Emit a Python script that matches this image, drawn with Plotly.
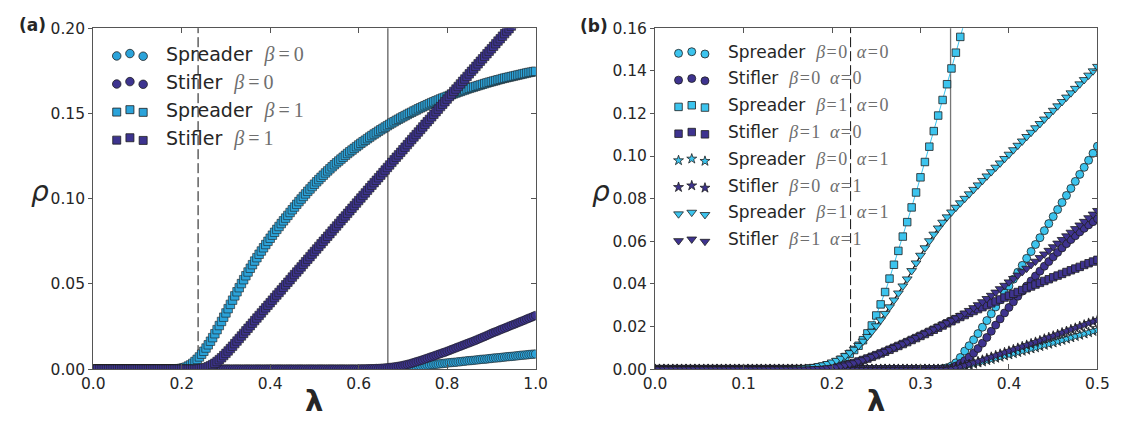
import plotly.graph_objects as go

# ============================ DATA ============================
# ---- panel (a): lambda grid (step 0.005) and densities rho ----
lam_a = [
    0.000, 0.005, 0.010, 0.015, 0.020, 0.025, 0.030, 0.035, 0.040, 0.045,
    0.050, 0.055, 0.060, 0.065, 0.070, 0.075, 0.080, 0.085, 0.090, 0.095,
    0.100, 0.105, 0.110, 0.115, 0.120, 0.125, 0.130, 0.135, 0.140, 0.145,
    0.150, 0.155, 0.160, 0.165, 0.170, 0.175, 0.180, 0.185, 0.190, 0.195,
    0.200, 0.205, 0.210, 0.215, 0.220, 0.225, 0.230, 0.235, 0.240, 0.245,
    0.250, 0.255, 0.260, 0.265, 0.270, 0.275, 0.280, 0.285, 0.290, 0.295,
    0.300, 0.305, 0.310, 0.315, 0.320, 0.325, 0.330, 0.335, 0.340, 0.345,
    0.350, 0.355, 0.360, 0.365, 0.370, 0.375, 0.380, 0.385, 0.390, 0.395,
    0.400, 0.405, 0.410, 0.415, 0.420, 0.425, 0.430, 0.435, 0.440, 0.445,
    0.450, 0.455, 0.460, 0.465, 0.470, 0.475, 0.480, 0.485, 0.490, 0.495,
    0.500, 0.505, 0.510, 0.515, 0.520, 0.525, 0.530, 0.535, 0.540, 0.545,
    0.550, 0.555, 0.560, 0.565, 0.570, 0.575, 0.580, 0.585, 0.590, 0.595,
    0.600, 0.605, 0.610, 0.615, 0.620, 0.625, 0.630, 0.635, 0.640, 0.645,
    0.650, 0.655, 0.660, 0.665, 0.670, 0.675, 0.680, 0.685, 0.690, 0.695,
    0.700, 0.705, 0.710, 0.715, 0.720, 0.725, 0.730, 0.735, 0.740, 0.745,
    0.750, 0.755, 0.760, 0.765, 0.770, 0.775, 0.780, 0.785, 0.790, 0.795,
    0.800, 0.805, 0.810, 0.815, 0.820, 0.825, 0.830, 0.835, 0.840, 0.845,
    0.850, 0.855, 0.860, 0.865, 0.870, 0.875, 0.880, 0.885, 0.890, 0.895,
    0.900, 0.905, 0.910, 0.915, 0.920, 0.925, 0.930, 0.935, 0.940, 0.945,
    0.950, 0.955, 0.960, 0.965, 0.970, 0.975, 0.980, 0.985, 0.990, 0.995,
    1.000,
]

a_spreader_b0 = [
    0, 0, 0, 0, 0, 0, 0, 0, 0, 0,
    0, 0, 0, 0, 0, 0, 0, 0, 0, 0,
    0, 0, 0, 0, 0, 0, 0, 0, 0, 0,
    0, 0, 0, 0, 0, 0, 0, 0, 0, 0,
    0, 0, 0, 0, 0, 0, 0, 0, 0, 0,
    0, 0, 0, 0, 0, 0, 0, 0, 0, 0,
    0, 0, 0, 0, 0, 0, 0, 0, 0, 0,
    0, 0, 0, 0, 0, 0, 0, 0, 0, 0,
    0, 0, 0, 0, 0, 0, 0, 0, 0, 0,
    0, 0, 0, 0, 0, 0, 0, 0, 0, 0,
    0, 0, 0, 0, 0, 0, 0, 0, 0, 0,
    0, 0, 0, 0, 0, 0, 0, 0, 0, 0,
    0, 0, 0, 0, 0, 0, 0, 0, 0, 0,
    0, 0, 0, 0,
    0.0001, 0.0002, 0.0003, 0.0004, 0.0005, 0.0006, 0.0008, 0.0009, 0.001, 0.0012,
    0.0013, 0.0015, 0.0016, 0.0018, 0.0019, 0.0021, 0.0022, 0.0024, 0.0025, 0.0027,
    0.0028, 0.0029, 0.003, 0.0032, 0.0033, 0.0035, 0.0036, 0.0038, 0.0039, 0.004,
    0.0041, 0.0043, 0.0044, 0.0046, 0.0047, 0.0049, 0.005, 0.0051, 0.0052, 0.0054,
    0.0055, 0.0057, 0.0058, 0.0059, 0.006, 0.0062, 0.0063, 0.0065, 0.0066, 0.0067,
    0.0068, 0.007, 0.0071, 0.0073, 0.0074, 0.0075, 0.0076, 0.0078, 0.0079, 0.0081,
    0.0082, 0.0083, 0.0084, 0.0086, 0.0087, 0.0088, 0.0089,
]

a_stifler_b0 = [
    0, 0, 0, 0, 0, 0, 0, 0, 0, 0,
    0, 0, 0, 0, 0, 0, 0, 0, 0, 0,
    0, 0, 0, 0, 0, 0, 0, 0, 0, 0,
    0, 0, 0, 0, 0, 0, 0, 0, 0, 0,
    0, 0, 0, 0, 0, 0, 0, 0, 0, 0,
    0, 0, 0, 0, 0, 0, 0, 0, 0, 0,
    0, 0, 0, 0, 0, 0, 0, 0, 0, 0,
    0, 0, 0, 0, 0, 0, 0, 0, 0, 0,
    0, 0, 0, 0, 0, 0, 0, 0, 0, 0,
    0, 0, 0, 0, 0, 0, 0, 0, 0, 0,
    0, 0, 0, 0, 0, 0, 0, 0, 0, 0,
    0, 0, 0, 0, 0, 0, 0, 0, 0, 0,
    0,
    0.0001, 0.0001, 0.0001, 0.0002, 0.0002, 0.0003, 0.0003, 0.0004, 0.0004, 0.0005,
    0.0006, 0.0007, 0.0008, 0.001, 0.0011, 0.0013, 0.0015, 0.0017, 0.0019, 0.0022,
    0.0025, 0.0028, 0.0031, 0.0035, 0.0039, 0.0043, 0.0047, 0.0051, 0.0055, 0.006,
    0.0064, 0.0069, 0.0073, 0.0078, 0.0082, 0.0087, 0.0091, 0.0096, 0.01, 0.0105,
    0.011, 0.0115, 0.012, 0.0125, 0.013, 0.0135, 0.014, 0.0145, 0.015, 0.0155,
    0.016, 0.0165, 0.017, 0.0176, 0.0181, 0.0187, 0.0192, 0.0198, 0.0204, 0.021,
    0.0215, 0.022, 0.0225, 0.0231, 0.0236, 0.0241, 0.0246, 0.0252, 0.0257, 0.0262,
    0.0267, 0.0273, 0.0278, 0.0283, 0.0288, 0.0294, 0.0299, 0.0304, 0.031, 0.0315,
]

a_spreader_b1 = [
    0, 0, 0, 0, 0, 0, 0, 0, 0, 0,
    0, 0, 0, 0, 0, 0, 0, 0, 0, 0,
    0, 0, 0, 0, 0, 0, 0, 0, 0, 0,
    0, 0, 0, 0, 0, 0, 0, 0,
    0.0002, 0.0003, 0.0005, 0.0008, 0.0012, 0.0018, 0.0025, 0.0034, 0.0045, 0.0058,
    0.0072, 0.0088, 0.0105, 0.0124, 0.0143, 0.0164, 0.0185, 0.0208, 0.0232, 0.0256,
    0.028, 0.0305, 0.033, 0.0355, 0.038, 0.0405, 0.043, 0.0454, 0.0478, 0.0502,
    0.0525, 0.0548, 0.057, 0.0592, 0.0613, 0.0634, 0.0654, 0.0674, 0.0693, 0.0712,
    0.0731, 0.075, 0.0768, 0.0786, 0.0803, 0.082, 0.0837, 0.0854, 0.087, 0.0886,
    0.0902, 0.0919, 0.0935, 0.0951, 0.0967, 0.0983, 0.0998, 0.1013, 0.1028, 0.1043,
    0.1057, 0.1071, 0.1085, 0.1099, 0.1112, 0.1125, 0.1138, 0.1151, 0.1163, 0.1175,
    0.1187, 0.1199, 0.121, 0.1221, 0.1232, 0.1243, 0.1254, 0.1265, 0.1275, 0.1285,
    0.1295, 0.1305, 0.1315, 0.1325, 0.1334, 0.1343, 0.1352, 0.1361, 0.137, 0.1379,
    0.1387, 0.1396, 0.1404, 0.1412, 0.142, 0.1428, 0.1436, 0.1444, 0.1451, 0.1459,
    0.1466, 0.1473, 0.148, 0.1487, 0.1494, 0.1501, 0.1507, 0.1514, 0.152, 0.1527,
    0.1533, 0.1539, 0.1545, 0.1551, 0.1557, 0.1563, 0.1568, 0.1574, 0.1579, 0.1585,
    0.159, 0.1595, 0.16, 0.1605, 0.161, 0.1615, 0.162, 0.1625, 0.1629, 0.1634,
    0.1638, 0.1643, 0.1647, 0.1651, 0.1655, 0.1659, 0.1663, 0.1667, 0.1671, 0.1675,
    0.1679, 0.1683, 0.1686, 0.169, 0.1693, 0.1697, 0.17, 0.1704, 0.1707, 0.171,
    0.1713, 0.1716, 0.1719, 0.1722, 0.1725, 0.1728, 0.1731, 0.1734, 0.1737, 0.174,
    0.1742, 0.1745, 0.1747,
]

a_stifler_b1 = [
    0, 0, 0, 0, 0, 0, 0, 0, 0, 0,
    0, 0, 0, 0, 0, 0, 0, 0, 0, 0,
    0, 0, 0, 0, 0, 0, 0, 0, 0, 0,
    0, 0, 0, 0, 0, 0, 0, 0, 0, 0,
    0, 0, 0, 0, 0, 0, 0, 0,
    0.0002, 0.0004, 0.0006, 0.0009, 0.0014, 0.002, 0.0027, 0.0035, 0.0045, 0.0056,
    0.0067, 0.008, 0.0093, 0.0107, 0.0121, 0.0135, 0.015, 0.0165, 0.018, 0.0195,
    0.021, 0.0225, 0.024, 0.0255, 0.027, 0.0285, 0.030, 0.0315, 0.033, 0.0345,
    0.036, 0.0375, 0.039, 0.0405, 0.042, 0.0435, 0.045, 0.0465, 0.048, 0.0495,
    0.051, 0.0525, 0.054, 0.0555, 0.057, 0.0585, 0.060, 0.0615, 0.063, 0.0645,
    0.066, 0.0675, 0.069, 0.0705, 0.072, 0.0735, 0.075, 0.0765, 0.078, 0.0795,
    0.081, 0.0825, 0.084, 0.0855, 0.087, 0.0885, 0.0899, 0.0914, 0.0929, 0.0944,
    0.0959, 0.0974, 0.0989, 0.1004, 0.1019, 0.1034, 0.1049, 0.1064, 0.1079, 0.1094,
    0.1108, 0.1123, 0.1138, 0.1153, 0.1168, 0.1183, 0.1198, 0.1213, 0.1228, 0.1243,
    0.1257, 0.1272, 0.1287, 0.1302, 0.1317, 0.1332, 0.1347, 0.1362, 0.1376, 0.1391,
    0.1406, 0.1421, 0.1436, 0.1451, 0.1465, 0.148, 0.1495, 0.151, 0.1525, 0.154,
    0.1554, 0.1569, 0.1584, 0.1599, 0.1614, 0.1629, 0.1643, 0.1658, 0.1673, 0.1688,
    0.1702, 0.1717, 0.1732, 0.1747, 0.1761, 0.1776, 0.1791, 0.1806, 0.182, 0.1835,
    0.185, 0.1865, 0.1879, 0.1894, 0.1909, 0.1924, 0.1938, 0.1953, 0.1968, 0.1983,
    0.1997, 0.2012, 0.2027, 0.2042, 0.2056, 0.2071, 0.2086, 0.2101, 0.2115, 0.213,
    0.2145, 0.216, 0.2174,
]

# ---- panel (b): lambda grid (step 0.005) and densities rho ----
lam_b = [
    0.000, 0.005, 0.010, 0.015, 0.020, 0.025, 0.030, 0.035, 0.040, 0.045,
    0.050, 0.055, 0.060, 0.065, 0.070, 0.075, 0.080, 0.085, 0.090, 0.095,
    0.100, 0.105, 0.110, 0.115, 0.120, 0.125, 0.130, 0.135, 0.140, 0.145,
    0.150, 0.155, 0.160, 0.165, 0.170, 0.175, 0.180, 0.185, 0.190, 0.195,
    0.200, 0.205, 0.210, 0.215, 0.220, 0.225, 0.230, 0.235, 0.240, 0.245,
    0.250, 0.255, 0.260, 0.265, 0.270, 0.275, 0.280, 0.285, 0.290, 0.295,
    0.300, 0.305, 0.310, 0.315, 0.320, 0.325, 0.330, 0.335, 0.340, 0.345,
    0.350, 0.355, 0.360, 0.365, 0.370, 0.375, 0.380, 0.385, 0.390, 0.395,
    0.400, 0.405, 0.410, 0.415, 0.420, 0.425, 0.430, 0.435, 0.440, 0.445,
    0.450, 0.455, 0.460, 0.465, 0.470, 0.475, 0.480, 0.485, 0.490, 0.495,
    0.500,
]

b_spreader_b0_a0 = [
    0, 0, 0, 0, 0, 0, 0, 0, 0, 0,
    0, 0, 0, 0, 0, 0, 0, 0, 0, 0,
    0, 0, 0, 0, 0, 0, 0, 0, 0, 0,
    0, 0, 0, 0, 0, 0, 0, 0, 0, 0,
    0, 0, 0, 0, 0, 0, 0, 0, 0, 0,
    0, 0, 0, 0, 0, 0, 0, 0, 0, 0,
    0, 0, 0, 0, 0,
    0.0003, 0.0007, 0.0015, 0.003, 0.0055, 0.0085, 0.011, 0.0138, 0.0167, 0.0197,
    0.0228, 0.026, 0.0292, 0.0325, 0.0357, 0.039, 0.0422, 0.0455, 0.0487, 0.052,
    0.0552, 0.0585, 0.0617, 0.065, 0.0683, 0.0716, 0.0749, 0.0782, 0.0815, 0.0848,
    0.0881, 0.0914, 0.0947, 0.098, 0.1013, 0.1046,
]

b_stifler_b0_a0 = [
    0, 0, 0, 0, 0, 0, 0, 0, 0, 0,
    0, 0, 0, 0, 0, 0, 0, 0, 0, 0,
    0, 0, 0, 0, 0, 0, 0, 0, 0, 0,
    0, 0, 0, 0, 0, 0, 0, 0, 0, 0,
    0, 0, 0, 0, 0, 0, 0, 0, 0, 0,
    0, 0, 0, 0, 0, 0, 0, 0, 0, 0,
    0, 0, 0, 0, 0, 0, 0,
    0.0005, 0.0015, 0.0027, 0.004, 0.0056, 0.0075, 0.0097, 0.0122, 0.0149, 0.0178,
    0.0207, 0.0236, 0.0264, 0.029, 0.0316, 0.0342, 0.0366, 0.039, 0.0414, 0.0437,
    0.046, 0.0483, 0.0505, 0.0527, 0.0548, 0.0569, 0.0589, 0.0608, 0.0626, 0.0644,
    0.0661, 0.0677, 0.0692, 0.0706,
]

b_spreader_b1_a0 = [
    0, 0, 0, 0, 0, 0, 0, 0, 0, 0,
    0, 0, 0, 0, 0, 0, 0, 0, 0, 0,
    0, 0, 0, 0, 0, 0, 0, 0, 0, 0,
    0, 0, 0, 0, 0,
    0.0003, 0.0005, 0.0008, 0.0012, 0.0017, 0.0024, 0.0033, 0.0044, 0.0057, 0.0072,
    0.009, 0.011, 0.0136, 0.0168, 0.0205, 0.0252, 0.0304, 0.0362, 0.0425, 0.049,
    0.0555, 0.0622, 0.069, 0.0759, 0.0829, 0.09, 0.0972, 0.1044, 0.1117, 0.119,
    0.1263, 0.1337, 0.1411, 0.1485, 0.1559, 0.1633, 0.1707,
    None, None, None, None, None, None, None, None, None, None,
    None, None, None, None, None, None, None, None, None, None,
    None, None, None, None, None, None, None, None, None,
]

b_stifler_b1_a0 = [
    0, 0, 0, 0, 0, 0, 0, 0, 0, 0,
    0, 0, 0, 0, 0, 0, 0, 0, 0, 0,
    0, 0, 0, 0, 0, 0, 0, 0, 0, 0,
    0, 0, 0, 0, 0,
    0.0001, 0.0002, 0.0003, 0.0004, 0.0006, 0.0008, 0.0011, 0.0014, 0.0018, 0.0023,
    0.0029, 0.0036, 0.0043, 0.005, 0.0058, 0.0066, 0.0074, 0.0082, 0.0091, 0.01,
    0.0109, 0.0118, 0.0127, 0.0137, 0.0146, 0.0156, 0.0165, 0.0175, 0.0185, 0.0195,
    0.0205, 0.0215, 0.0225, 0.0235, 0.0245, 0.0254, 0.0264, 0.0273, 0.0282, 0.0291,
    0.03, 0.0309, 0.0318, 0.0327, 0.0336, 0.0345, 0.0354, 0.0362, 0.0371, 0.038,
    0.0388, 0.0397, 0.0405, 0.0414, 0.0422, 0.0431, 0.0439, 0.0447, 0.0456, 0.0464,
    0.0472, 0.048, 0.0489, 0.0497, 0.0505, 0.0513,
]

b_spreader_b0_a1 = [
    0, 0, 0, 0, 0, 0, 0, 0, 0, 0,
    0, 0, 0, 0, 0, 0, 0, 0, 0, 0,
    0, 0, 0, 0, 0, 0, 0, 0, 0, 0,
    0, 0, 0, 0, 0, 0, 0, 0, 0, 0,
    0, 0, 0, 0, 0, 0, 0, 0, 0, 0,
    0, 0, 0, 0, 0, 0, 0, 0, 0, 0,
    0, 0, 0, 0, 0, 0, 0,
    0.0002, 0.0005, 0.0009, 0.0014, 0.0019, 0.0024, 0.003, 0.0035, 0.0041, 0.0046,
    0.0052, 0.0057, 0.0063, 0.0068, 0.0074, 0.0079, 0.0085, 0.009, 0.0096, 0.0101,
    0.0107, 0.0113, 0.0118, 0.0124, 0.013, 0.0136, 0.0142, 0.0148, 0.0154, 0.016,
    0.0166, 0.0172, 0.0178, 0.0184,
]

b_stifler_b0_a1 = [
    0, 0, 0, 0, 0, 0, 0, 0, 0, 0,
    0, 0, 0, 0, 0, 0, 0, 0, 0, 0,
    0, 0, 0, 0, 0, 0, 0, 0, 0, 0,
    0, 0, 0, 0, 0, 0, 0, 0, 0, 0,
    0, 0, 0, 0, 0, 0, 0, 0, 0, 0,
    0, 0, 0, 0, 0, 0, 0, 0, 0, 0,
    0, 0, 0, 0, 0, 0, 0,
    0.0002, 0.0006, 0.0011, 0.0017, 0.0023, 0.003, 0.0036, 0.0043, 0.005, 0.0057,
    0.0064, 0.0071, 0.0078, 0.0085, 0.0092, 0.0099, 0.0106, 0.0113, 0.012, 0.0127,
    0.0134, 0.0142, 0.0149, 0.0156, 0.0163, 0.0171, 0.0178, 0.0186, 0.0193, 0.0201,
    0.0208, 0.0216, 0.0223, 0.0231,
]

b_spreader_b1_a1 = [
    0, 0, 0, 0, 0, 0, 0, 0, 0, 0,
    0, 0, 0, 0, 0, 0, 0, 0, 0, 0,
    0, 0, 0, 0, 0, 0, 0, 0, 0,
    0.0001, 0.0002, 0.0003, 0.0004, 0.0005, 0.0007, 0.0009, 0.0012, 0.0016, 0.002,
    0.0026, 0.0033, 0.0041, 0.0051, 0.0063, 0.0077, 0.0093, 0.0111, 0.0131, 0.0153,
    0.0177, 0.0203, 0.0231, 0.0261, 0.0292, 0.0324, 0.0357, 0.039, 0.0423, 0.0462,
    0.0498, 0.0534, 0.0569, 0.0602, 0.0633, 0.0662, 0.0689, 0.0714, 0.0737, 0.0759,
    0.078, 0.0801, 0.0822, 0.0843, 0.0864, 0.0885, 0.0906, 0.0926, 0.0947, 0.0967,
    0.0988, 0.1008, 0.1029, 0.105, 0.107, 0.1091, 0.1111, 0.1132, 0.1152, 0.1173,
    0.1194, 0.1214, 0.1235, 0.1255, 0.1276, 0.1296, 0.1317, 0.1338, 0.1358, 0.1379,
    0.1399, 0.142,
]

b_stifler_b1_a1 = [
    0, 0, 0, 0, 0, 0, 0, 0, 0, 0,
    0, 0, 0, 0, 0, 0, 0, 0, 0, 0,
    0, 0, 0, 0, 0, 0, 0, 0, 0, 0,
    0, 0, 0, 0, 0,
    0.0001, 0.0002, 0.0003, 0.0004, 0.0006, 0.0008, 0.0011, 0.0015, 0.0019, 0.0024,
    0.003, 0.0037, 0.0044, 0.0051, 0.0059, 0.0067, 0.0075, 0.0083, 0.0092, 0.0101,
    0.011, 0.0119, 0.0128, 0.0138, 0.0148, 0.0158, 0.0168, 0.0178, 0.0188, 0.0199,
    0.0208, 0.0218, 0.0229, 0.024, 0.0251, 0.0263, 0.0275, 0.0288, 0.0302, 0.0316,
    0.0331, 0.0346, 0.0361, 0.0377, 0.0393, 0.0409, 0.0425, 0.0441, 0.0457, 0.0473,
    0.049, 0.0506, 0.0523, 0.054, 0.0557, 0.0574, 0.0591, 0.0608, 0.0625, 0.0642,
    0.0659, 0.0676, 0.0693, 0.071, 0.0727, 0.0744,
]

# thresholds (vertical reference lines)
a_lambda_dashed = 0.237
a_lambda_solid = 0.666
b_lambda_dashed = 0.221
b_lambda_solid = 0.334

# tick labels
a_xticks = [0.0, 0.2, 0.4, 0.6, 0.8, 1.0]
a_yticks = [0.00, 0.05, 0.10, 0.15, 0.20]
b_xticks = [0.0, 0.1, 0.2, 0.3, 0.4, 0.5]
b_yticks = [0.00, 0.02, 0.04, 0.06, 0.08, 0.10, 0.12, 0.14, 0.16]

for s in (a_spreader_b0, a_stifler_b0, a_spreader_b1, a_stifler_b1):
    assert len(s) == len(lam_a), len(s)
for s in (b_spreader_b0_a0, b_stifler_b0_a0, b_spreader_b1_a0, b_stifler_b1_a0,
          b_spreader_b0_a1, b_stifler_b0_a1, b_spreader_b1_a1, b_stifler_b1_a1):
    assert len(s) == len(lam_b), len(s)

# ============================ STYLE / LAYOUT ============================
W, H = 1130, 428
A_L, A_R = 83, 535
B_L, B_R = 657, 1109
P_T, P_B = 20, 376


def fx(p):
    return p / W


def fy(p):
    return 1 - p / H


LIGHT_A = "#2ba3da"
DARK_A = "#3d348f"
LIGHT_B = "#3cc4ee"
DARK_B = "#3e338f"
EDGE = "#1e1e1e"
FRAME = "#555555"
TXT = "#262626"
MATHC = "#6e6e6e"

fig = go.Figure()


def add_series(x, y, xa, ya, symbol, color, size, line_color=None, lw=1.0, ew=0.8):
    fig.add_trace(go.Scatter(
        x=x, y=y, xaxis=xa, yaxis=ya,
        mode="lines+markers" if line_color else "markers",
        marker=dict(symbol=symbol, color=color, size=size,
                    line=dict(color=EDGE, width=ew)),
        line=dict(color=line_color or color, width=lw),
        showlegend=False, hoverinfo="skip"))


# panel (a)
add_series(lam_a, a_spreader_b0, "x", "y", "circle", LIGHT_A, 8.5, None, 1.0, 0.6)
add_series(lam_a, a_stifler_b0, "x", "y", "circle", DARK_A, 8.5, None, 1.0, 0.6)
add_series(lam_a, a_spreader_b1, "x", "y", "square", LIGHT_A, 8.5, None, 1.0, 0.6)
add_series(lam_a, a_stifler_b1, "x", "y", "square", DARK_A, 8.5, None, 1.0, 0.6)

# panel (b)
add_series(lam_b, b_spreader_b0_a0, "x4", "y4", "circle", LIGHT_B, 8, LIGHT_B)
add_series(lam_b, b_stifler_b0_a0, "x4", "y4", "circle", DARK_B, 8)
add_series(lam_b, b_spreader_b1_a0, "x4", "y4", "square", LIGHT_B, 7.5, LIGHT_B)
add_series(lam_b, b_stifler_b1_a0, "x4", "y4", "square", DARK_B, 7.5)
add_series(lam_b, b_spreader_b0_a1, "x4", "y4", "star", LIGHT_B, 7.5, LIGHT_B)
add_series(lam_b, b_stifler_b0_a1, "x4", "y4", "star", DARK_B, 7.5)
add_series(lam_b, b_spreader_b1_a1, "x4", "y4", "triangle-down", LIGHT_B, 8.5, "#111111", 1.2)
add_series(lam_b, b_stifler_b1_a1, "x4", "y4", "triangle-down", DARK_B, 8.5)

# dummy traces so the mirrored tick axes (top / right) are drawn
for xa, ya in (("x2", "y"), ("x", "y2"), ("x5", "y4"), ("x4", "y5")):
    fig.add_trace(go.Scatter(x=[None], y=[None], xaxis=xa, yaxis=ya,
                             showlegend=False, hoverinfo="skip"))

annotations = []


def math(s, size):
    return ("<span style='font-family:Liberation Serif;font-size:%spx;color:%s'>%s</span>"
            % (size, MATHC, s))


def legend(entries, xa, ya, xs, dys, y0, dy, text_x, wsize, msize):
    for i, (word, mtxt, sym, col, size) in enumerate(entries):
        yc = y0 + i * dy
        fig.add_trace(go.Scatter(
            x=xs, y=[yc + d for d in dys], xaxis=xa, yaxis=ya, mode="markers",
            marker=dict(symbol=sym, color=col, size=size, line=dict(color=EDGE, width=0.8)),
            showlegend=False, hoverinfo="skip"))
        annotations.append(dict(
            x=fx(text_x), y=fy(yc - 1.5), xref="paper", yref="paper",
            xanchor="left", yanchor="middle", showarrow=False,
            text=word + "\u00a0\u00a0" + math(mtxt, msize),
            font=dict(family="DejaVu Sans", size=wsize, color=TXT)))


T = "\u2009"
h = "\u200a"
legend([
    ("Spreader", "<i>β</i>" + T + "=" + T + "0", "circle", LIGHT_A, 8.5),
    ("Stifler", "<i>β</i>" + T + "=" + T + "0", "circle", DARK_A, 8.5),
    ("Spreader", "<i>β</i>" + T + "=" + T + "1", "square", LIGHT_A, 8),
    ("Stifler", "<i>β</i>" + T + "=" + T + "1", "square", DARK_A, 8),
], "x3", "y3", [107, 120.5, 134], [0.5, -2, 0.8], 48.5, 29.3, 155, 19, 20)


def bm(b, a):
    return ("<i>β</i>" + h + "=" + h + b + "\u00a0" + T + h + "<i>α</i>" + h + "=" + h + a)


legend([
    ("Spreader", bm("0", "0"), "circle", LIGHT_B, 8),
    ("Stifler", bm("0", "0"), "circle", DARK_B, 8),
    ("Spreader", bm("1", "0"), "square", LIGHT_B, 7.5),
    ("Stifler", bm("1", "0"), "square", DARK_B, 7.5),
    ("Spreader", bm("0", "1"), "star", LIGHT_B, 7.5),
    ("Stifler", bm("0", "1"), "star", DARK_B, 7.5),
    ("Spreader", bm("1", "1"), "triangle-down", LIGHT_B, 8.5),
    ("Stifler", bm("1", "1"), "triangle-down", DARK_B, 8.5),
], "x6", "y6", [681, 694.5, 708], [0.3, -1.4, 1.0], 46, 27.95, 730, 17, 18)

# axis titles and panel labels
for xp in ((A_L + A_R) / 2, (B_L + B_R) / 2):
    annotations.append(dict(x=fx(xp), y=fy(409), xref="paper", yref="paper",
                            text="<b>λ</b>", showarrow=False, xanchor="center", yanchor="middle",
                            font=dict(family="DejaVu Sans", size=29, color=TXT)))
for xp in (29, 602):
    annotations.append(dict(x=fx(xp), y=fy(191), xref="paper", yref="paper",
                            text="<i>ρ</i>", showarrow=False, xanchor="center", yanchor="middle",
                            font=dict(family="DejaVu Sans", size=28, color=TXT)))
annotations.append(dict(x=fx(21), y=fy(17), xref="paper", yref="paper", text="<b>(a)</b>",
                        showarrow=False, xanchor="center", yanchor="middle",
                        font=dict(family="DejaVu Sans", size=17, color=TXT)))
annotations.append(dict(x=fx(595), y=fy(18), xref="paper", yref="paper", text="<b>(b)</b>",
                        showarrow=False, xanchor="center", yanchor="middle",
                        font=dict(family="DejaVu Sans", size=17, color=TXT)))

tickfont = dict(family="DejaVu Sans", size=15.5, color=TXT)
base = dict(showgrid=False, zeroline=False, fixedrange=True, tickcolor=FRAME, tickwidth=1)


def xmain(dom, rng, ticks, anchor):
    return dict(base, domain=dom, range=rng, anchor=anchor, tickvals=ticks,
                ticktext=["%.1f" % t for t in ticks], tickfont=tickfont,
                showline=True, mirror=True, linecolor=FRAME, linewidth=1.1,
                ticks="inside", ticklen=5)


def ymain(dom, rng, ticks, anchor):
    return dict(base, domain=dom, range=rng, anchor=anchor, tickvals=ticks,
                ticktext=["%.2f" % t for t in ticks], tickfont=tickfont,
                showline=True, mirror=True, linecolor=FRAME, linewidth=1.1,
                ticks="outside", ticklen=4)


def over(ov, rng, ticks, side, anchor):
    return dict(base, overlaying=ov, range=rng, tickvals=ticks, side=side, anchor=anchor,
                showticklabels=False, showline=False, ticks="inside", ticklen=5)


dy_ = [fy(P_B), fy(P_T)]
layout = dict(
    width=W, height=H, autosize=False,
    margin=dict(l=0, r=0, t=0, b=0, pad=0),
    paper_bgcolor="white", plot_bgcolor="white",
    showlegend=False,
    font=dict(family="DejaVu Sans", color=TXT),
    xaxis=xmain([fx(A_L), fx(A_R)], [0, 1], a_xticks, "y"),
    yaxis=ymain(dy_, [0, 0.2], a_yticks, "x"),
    xaxis2=over("x", [0, 1], a_xticks, "top", "y"),
    yaxis2=over("y", [0, 0.2], a_yticks, "right", "x"),
    xaxis3=dict(overlaying="x", range=[A_L, A_R], anchor="y3", visible=False, fixedrange=True),
    yaxis3=dict(overlaying="y", range=[P_B, P_T], anchor="x3", visible=False, fixedrange=True),
    xaxis4=xmain([fx(B_L), fx(B_R)], [0, 0.5], b_xticks, "y4"),
    yaxis4=ymain(dy_, [0, 0.16], b_yticks, "x4"),
    xaxis5=over("x4", [0, 0.5], b_xticks, "top", "y4"),
    yaxis5=over("y4", [0, 0.16], b_yticks, "right", "x4"),
    xaxis6=dict(overlaying="x4", range=[B_L, B_R], anchor="y6", visible=False, fixedrange=True),
    yaxis6=dict(overlaying="y4", range=[P_B, P_T], anchor="x6", visible=False, fixedrange=True),
    annotations=annotations,
    shapes=[
        dict(type="line", xref="x", yref="y domain", x0=a_lambda_dashed, x1=a_lambda_dashed,
             y0=0, y1=1, line=dict(color="#111111", width=1, dash="10px,4px"), layer="below"),
        dict(type="line", xref="x", yref="y domain", x0=a_lambda_solid, x1=a_lambda_solid,
             y0=0, y1=1, line=dict(color="#444444", width=1.1), layer="below"),
        dict(type="line", xref="x4", yref="y4 domain", x0=b_lambda_dashed, x1=b_lambda_dashed,
             y0=0, y1=1, line=dict(color="#111111", width=1, dash="10px,4px"), layer="below"),
        dict(type="line", xref="x4", yref="y4 domain", x0=b_lambda_solid, x1=b_lambda_solid,
             y0=0, y1=1, line=dict(color="#777777", width=1.3), layer="below"),
    ],
)
fig.update_layout(**layout)
fig.write_html("out.html")
